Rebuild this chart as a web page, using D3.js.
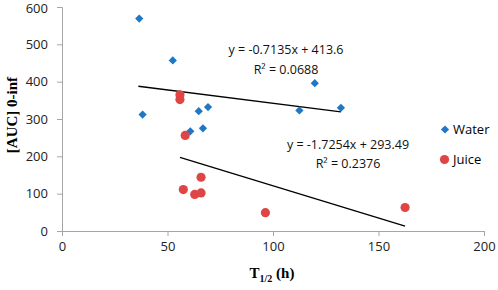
<!DOCTYPE html>
<html>
<head>
<meta charset="utf-8">
<script src="https://cdn.jsdelivr.net/npm/d3@7"></script>
<style>
  body { margin: 0; background: white; }
  text { font-family: "Open Sans", "Liberation Sans", sans-serif; }
</style>
</head>
<body>
<div id="chart"></div>
<script>
// water points (T1/2, AUC)
const waterX = [36.6, 38.2, 52.5, 60.8, 64.8, 66.8, 69.2, 112.5, 119.8, 132.2];
const waterY = [569, 312, 457, 267, 321, 275, 332, 323, 396, 330];

// juice points
const juiceX = [55.9, 55.9, 58.4, 57.5, 62.9, 65.9, 65.9, 96.4, 162.6];
const juiceY = [365, 352, 256, 111, 98, 102, 144, 49, 63];

// trend lines: slope, intercept, x range
const waterFit = { m: -0.7135, b: 413.6, x0: 36.2, x1: 132.2 };
const juiceFit = { m: -1.7254, b: 293.49, x0: 55.9, x1: 162.6 };

const xTicks = [0, 50, 100, 150, 200];
const yTicks = [0, 100, 200, 300, 400, 500, 600];

const width = 498;
const height = 290;
const margin = { top: 7, right: 14, bottom: 59, left: 62 };

const svg = d3.select("#chart")
    .append("svg")
    .attr("width", width)
    .attr("height", height);

const xScale = d3.scaleLinear()
    .domain([0, 200])
    .range([margin.left, 484]);

const yScale = d3.scaleLinear()
    .domain([0, 600])
    .range([height - margin.bottom, margin.top]);

//x axis
const xAxis = svg.append("g")
    .attr("transform", "translate(0," + yScale(0) + ")")
    .call(d3.axisBottom(xScale).tickValues(xTicks).tickSize(5).tickPadding(6));
xAxis.selectAll("text").style("font-size", "13px").attr("fill", "#222");

//y axis
const yAxis = svg.append("g")
    .attr("transform", "translate(" + xScale(0) + ",0)")
    .call(d3.axisLeft(yScale).tickValues(yTicks).tickSize(5).tickPadding(9));
yAxis.selectAll("text").style("font-size", "13px").attr("fill", "#222");
// keep top label inside the picture
yAxis.selectAll("text").filter(function(d) { return d === 600; }).attr("dy", "0.42em");

svg.selectAll(".domain, .tick line").attr("stroke", "#a6a6a6");

//trend lines
[waterFit, juiceFit].forEach(function(f) {
    svg.append("line")
        .attr("x1", xScale(f.x0))
        .attr("y1", yScale(f.m * f.x0 + f.b))
        .attr("x2", xScale(f.x1))
        .attr("y2", yScale(f.m * f.x1 + f.b))
        .attr("stroke", "black")
        .attr("stroke-width", 1.3);
});

const blue = "#1f78c4";
const red = "#e04545";
const diamond = d3.symbol().type(d3.symbolSquare).size(34);

//water diamonds
svg.selectAll(".water")
    .data(waterX)
    .enter()
    .append("path")
    .attr("class", "water")
    .attr("d", diamond)
    .attr("transform", function(d, i) {
        return "translate(" + xScale(d) + "," + yScale(waterY[i]) + ") rotate(45)";
    })
    .attr("fill", blue);

//juice circles
svg.selectAll(".juice")
    .data(juiceX)
    .enter()
    .append("circle")
    .attr("class", "juice")
    .attr("cx", function(d) { return xScale(d); })
    .attr("cy", function(d, i) { return yScale(juiceY[i]); })
    .attr("r", 4.6)
    .attr("fill", red);

//equation labels
const labels = [
    { t: "y = -0.7135x + 413.6", x: 286, y: 54 },
    { t: "R² = 0.0688", x: 286, y: 74 },
    { t: "y = -1.7254x + 293.49", x: 348, y: 149 },
    { t: "R² = 0.2376", x: 348, y: 168 }
];
svg.selectAll(".eq")
    .data(labels)
    .enter()
    .append("text")
    .attr("x", function(d) { return d.x; })
    .attr("y", function(d) { return d.y; })
    .attr("text-anchor", "middle")
    .style("font-size", "12.5px")
    .attr("fill", "#111")
    .text(function(d) { return d.t; });

//legend
svg.append("path")
    .attr("d", diamond)
    .attr("transform", "translate(445,129.5) rotate(45)")
    .attr("fill", blue);
svg.append("text")
    .attr("x", 453)
    .attr("y", 134)
    .style("font-size", "13px")
    .text("Water");
svg.append("circle")
    .attr("cx", 444.5)
    .attr("cy", 159.5)
    .attr("r", 4.6)
    .attr("fill", red);
svg.append("text")
    .attr("x", 453)
    .attr("y", 164)
    .style("font-size", "13px")
    .text("Juice");

//axis titles
const xTitle = svg.append("text")
    .attr("x", 272)
    .attr("y", 278)
    .attr("text-anchor", "middle")
    .style("font-family", "'Liberation Serif', 'DejaVu Serif', serif")
    .style("font-weight", "bold")
    .style("font-size", "15px");
xTitle.append("tspan").text("T");
xTitle.append("tspan").attr("dy", 4).style("font-size", "10px").text("1/2");
xTitle.append("tspan").attr("dy", -4).text(" (h)");

svg.append("text")
    .attr("transform", "translate(17,115) rotate(-90)")
    .attr("text-anchor", "middle")
    .style("font-family", "'Liberation Serif', 'DejaVu Serif', serif")
    .style("font-weight", "bold")
    .style("font-size", "15px")
    .text("[AUC] 0-inf");
</script>
</body>
</html>
